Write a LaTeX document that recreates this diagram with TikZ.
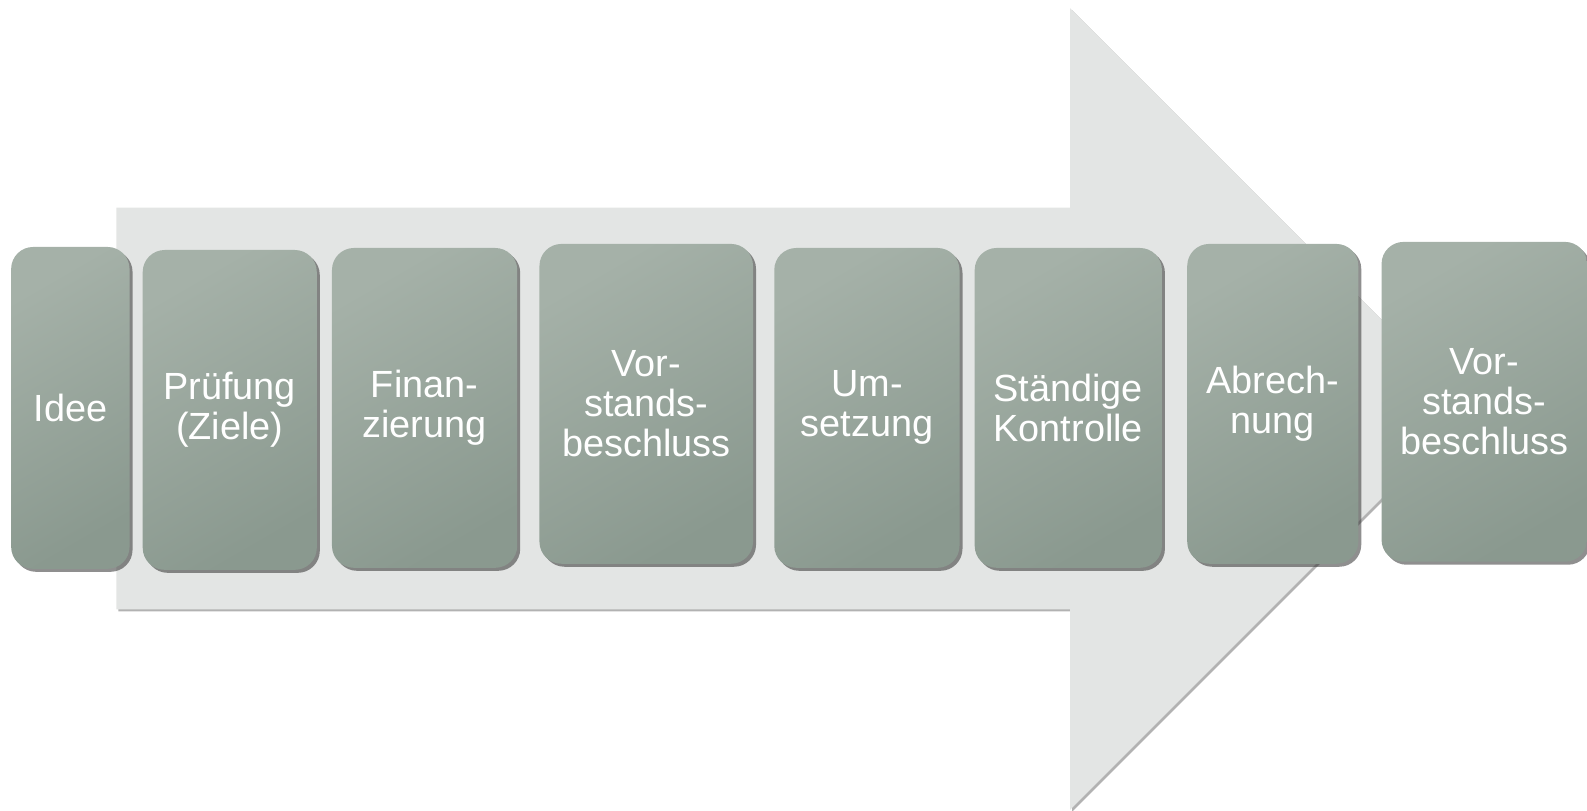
\documentclass[tikz,border=0pt]{standalone}
\usepackage{fontspec}
\setmainfont{Liberation Sans}
\usetikzlibrary{shadows}
\definecolor{arrowgray}{HTML}{E3E5E4}
\definecolor{boxtop}{HTML}{A5B1A8}
\definecolor{boxbot}{HTML}{8A998F}
\tikzset{
  stepbox/.style={rounded corners=22pt, draw=none, inner sep=0pt,
    top color=boxtop, bottom color=boxbot, shading angle=30,
    text=white, align=center,
    font=\fontsize{37.4}{39.5}\selectfont,
    drop shadow={shadow xshift=3pt, shadow yshift=-3pt, opacity=0.55, fill=black!80}},
}
\begin{document}
\begin{tikzpicture}[scale=1.0121, x=1pt, y=-1pt, transform shape, line join=round]
\path
(115,205) coordinate (A)
(1057,205) coordinate (B)
(1057,8) coordinate (C)
(1453,404) coordinate (T)
(1057,800) coordinate (D)
(1057,602) coordinate (E)
(115,602) coordinate (F)
;
\fill[arrowgray, drop shadow={shadow xshift=2pt, shadow yshift=-2pt, opacity=0.5, fill=black!60}]
(A)--(B)--(C)--(T)--(D)--(E)--(F)--cycle;
\node[stepbox, minimum width=117pt, minimum height=318pt] (idee) at (69.5,403) {Idee};
\node[stepbox, minimum width=172pt, minimum height=316pt] (pruef) at (227,405) {Prüfung\\(Ziele)};
\node[stepbox, minimum width=183pt, minimum height=316pt] (finanz) at (419.5,403) {Finan-\\zierung};
\node[stepbox, minimum width=211pt, minimum height=316pt] (vorst) at (638.5,399) {Vor-\\stands-\\beschluss};
\node[stepbox, minimum width=183pt, minimum height=316pt] (umsetz) at (856.5,403) {Um-\\setzung};
\node[stepbox, minimum width=185pt, minimum height=316pt] (kontr) at (1055.5,403) {Ständige\\Kontrolle};
\node[stepbox, minimum width=169pt, minimum height=316pt] (abrech) at (1257.5,399) {Abrech-\\nung};
\node[stepbox, minimum width=203pt, minimum height=316pt] (vorstb) at (1466.5,397) {Vor-\\stands-\\beschluss};
\pgfresetboundingbox
\useasboundingbox (0,0) rectangle (1568,800.3);
\end{tikzpicture}
\end{document}
